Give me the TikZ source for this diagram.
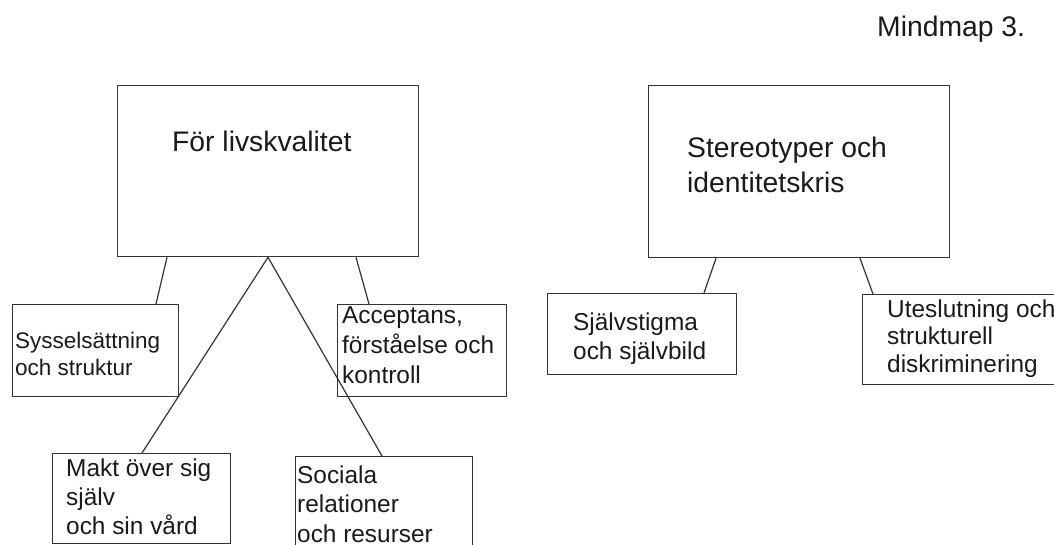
\documentclass[tikz,border=0pt]{standalone}
\usepackage{fontspec}
\setmainfont{Liberation Sans}
\usetikzlibrary{calc}
\definecolor{ink}{HTML}{333333}
\definecolor{txt}{HTML}{1A1A1A}
\tikzset{
  boxshape/.style={draw=ink, line width=1.3pt, rectangle, inner sep=0pt, anchor=north west},
  link/.style={draw=ink, line width=1.2pt},
  bigtext/.style={text=txt, inner sep=0pt, anchor=base west, align=left, font=\fontsize{28.3}{35}\selectfont},
  subtext/.style={text=txt, inner sep=0pt, anchor=base west, align=left, font=\fontsize{24.4}{29.3}\selectfont},
}
\begin{document}
\begin{tikzpicture}[x=1pt,y=-1pt]
\useasboundingbox (0,0) rectangle (1054,545);
\clip (0,0) rectangle (1054,545);
\fill[white] (0,0) rectangle (1054,545);
% boxes
\node[boxshape, minimum width=301pt, minimum height=171pt] (big1) at (117,85) {};
\node[boxshape, minimum width=301pt, minimum height=172pt] (big2) at (648,85) {};
\node[boxshape, minimum width=166pt, minimum height=92pt] (sys) at (12,304) {};
\node[boxshape, minimum width=169pt, minimum height=92pt] (acc) at (337,304) {};
\node[boxshape, minimum width=178pt, minimum height=90pt] (makt) at (52,453) {};
\node[boxshape, minimum width=177pt, minimum height=104pt] (soc) at (295,456) {};
\node[boxshape, minimum width=189pt, minimum height=81pt] (sjalv) at (547,293) {};
\node[boxshape, minimum width=208pt, minimum height=90pt] (utes) at (862,294) {};
% texts (anchor = baseline of the last line)
\node[bigtext] (title) at (877,36.7) {Mindmap 3.};
\node[bigtext] (t1) at (172,151.7) {För livskvalitet};
\node[bigtext] (t2) at (687,192.7) {Stereotyper och\\identitetskris};
\node[subtext, font=\fontsize{22.5}{27}\selectfont] (tsys) at (15,375) {Sysselsättning\\och struktur};
\node[subtext, font=\fontsize{24.4}{30}\selectfont] (tacc) at (342,383) {Acceptans,\\förståelse och\\kontroll};
\node[subtext, font=\fontsize{24.4}{29}\selectfont] (tmakt) at (66,534) {Makt över sig\\själv\\och sin vård};
\node[subtext, font=\fontsize{24.4}{29.5}\selectfont] (tsoc) at (297,542) {Sociala\\relationer\\och resurser};
\node[subtext, font=\fontsize{24.4}{29}\selectfont] (tsjalv) at (573,359) {Självstigma\\och självbild};
\node[subtext, font=\fontsize{24.4}{27.5}\selectfont] (tutes) at (887,372) {Uteslutning och\\strukturell\\diskriminering};
% connectors
\draw[link] ($(big1.south west)+(50,0)$) -- ($(sys.north west)+(144,0)$);
\draw[link] ($(big1.south west)+(151,0)$) -- ($(makt.north west)+(90,0)$);
\draw[link] ($(big1.south west)+(151,0)$) -- ($(soc.north west)+(87,0)$);
\draw[link] ($(big1.south west)+(239,0)$) -- ($(acc.north west)+(32,0)$);
\draw[link] ($(big2.south west)+(68,0)$) -- ($(sjalv.north west)+(157,0)$);
\draw[link] ($(big2.south west)+(212,0)$) -- ($(utes.north west)+(11,0)$);
\end{tikzpicture}
\end{document}
